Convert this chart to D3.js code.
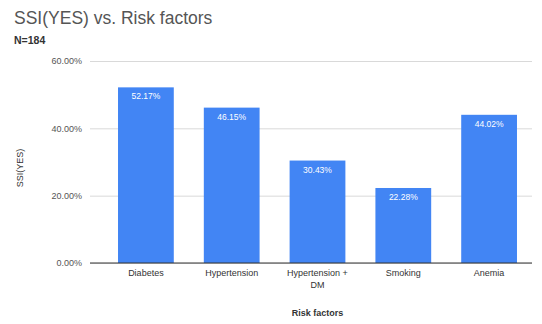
<!DOCTYPE html>
<html>
<head>
<meta charset="utf-8">
<script src="https://cdn.jsdelivr.net/npm/d3@7"></script>
<style>
  html, body { margin: 0; padding: 0; background: #fff; }
  svg { display: block; font-family: Arial, "Liberation Sans", sans-serif; }
</style>
</head>
<body>
<svg id="chart" width="542" height="324"></svg>
<script>
// Share of SSI (YES) by risk factor
const categories = ["Diabetes", "Hypertension", "Hypertension + DM", "Smoking", "Anemia"];
const ssiYes = [52.17, 46.15, 30.43, 22.28, 44.02];
const yTicks = [0, 20, 40, 60];

const svg = d3.select("#chart");
const bandLeft = 103, bandRight = 532, gridLeft = 90;
const plotTop = 61, plotBottom = 263;

const x = d3.scaleBand().domain(categories).range([bandLeft, bandRight]).paddingInner(0.35).paddingOuter(0.175);
const y = d3.scaleLinear().domain([0, 60]).range([plotBottom, plotTop]);

// Title block
svg.append("text").attr("x", 14).attr("y", 24)
  .attr("font-size", 17.5).attr("fill", "#555").text("SSI(YES) vs. Risk factors");
svg.append("text").attr("x", 14).attr("y", 44)
  .attr("font-size", 10.5).attr("font-weight", "bold").attr("fill", "#333").text("N=184");

// Gridlines and y labels
const yAxis = d3.axisLeft(y).tickValues(yTicks).tickSize(-(bandRight - gridLeft))
  .tickFormat(d => d.toFixed(2) + "%").tickPadding(8);
const gy = svg.append("g").attr("transform", `translate(${gridLeft},0)`).call(yAxis);
gy.select(".domain").remove();
gy.selectAll(".tick line").attr("stroke", "#d9d9d9");
gy.selectAll(".tick text").attr("font-size", 9).attr("fill", "#555")
  .attr("font-family", "Arial, 'Liberation Sans', sans-serif");

// Bars
svg.append("g").selectAll("rect").data(categories).join("rect")
  .attr("x", d => x(d))
  .attr("y", (d, i) => y(ssiYes[i]))
  .attr("width", x.bandwidth())
  .attr("height", (d, i) => y(0) - y(ssiYes[i]))
  .attr("fill", "#4285f4");

// Value labels inside the bars
svg.append("g").selectAll("text").data(categories).join("text")
  .attr("x", d => x(d) + x.bandwidth() / 2)
  .attr("y", (d, i) => y(ssiYes[i]) + 12)
  .attr("text-anchor", "middle").attr("font-size", 8.5).attr("fill", "#fff")
  .text((d, i) => ssiYes[i].toFixed(2) + "%");

// Baseline
svg.append("line").attr("x1", gridLeft).attr("x2", bandRight)
  .attr("y1", y(0)).attr("y2", y(0)).attr("stroke", "#333").attr("stroke-width", 1);

// Category labels (wrapped at " + ")
const xl = svg.append("g").selectAll("text").data(categories).join("text")
  .attr("x", d => x(d) + x.bandwidth() / 2)
  .attr("y", 276)
  .attr("text-anchor", "middle").attr("font-size", 9).attr("fill", "#333");
xl.each(function(d) {
  const parts = d.includes(" + ") ? [d.split(" + ")[0] + " +", d.split(" + ")[1]] : [d];
  d3.select(this).selectAll("tspan").data(parts).join("tspan")
    .attr("x", x(d) + x.bandwidth() / 2)
    .attr("dy", (p, i) => i === 0 ? 0 : 11.5)
    .text(p => p);
});

// Axis titles
svg.append("text").attr("x", (bandLeft + bandRight) / 2).attr("y", 316)
  .attr("text-anchor", "middle").attr("font-size", 9).attr("font-weight", "bold").attr("fill", "#333")
  .text("Risk factors");
svg.append("text").attr("transform", `translate(23,${(plotTop + plotBottom) / 2 + 6}) rotate(-90)`)
  .attr("text-anchor", "middle").attr("font-size", 9).attr("fill", "#333")
  .text("SSI(YES)");
</script>
</body>
</html>
